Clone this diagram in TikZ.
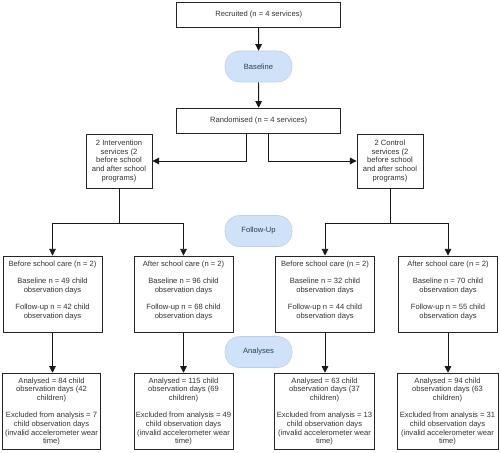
\documentclass[tikz,border=0pt]{standalone}
\usepackage{fontspec}
\setmainfont{Liberation Sans}
\usetikzlibrary{arrows.meta,calc}
\definecolor{txt}{HTML}{333333}
\definecolor{pillfill}{HTML}{CFE2F8}
\definecolor{pilldraw}{HTML}{B8D0EE}
\definecolor{pilltext}{HTML}{2E3D4F}
\begin{document}
\begin{tikzpicture}[x=0.75pt,y=-0.75pt,
  every node/.style={font=\fontsize{5.7}{6.5}\selectfont, text=txt},
  box/.style={draw=black!85, line width=0.65pt, fill=white, align=center, inner sep=0pt},
  pill/.style={fill=pillfill, draw=pilldraw, line width=0.4pt, rounded corners=11pt,
    minimum width=50.25pt, minimum height=23.25pt, text=pilltext, inner sep=0pt},
  lbl/.style={align=center, inner sep=0pt, anchor=north},
  arr/.style={draw=black!90, line width=0.65pt, -{Triangle[length=5pt,width=5pt]}},
  ln/.style={draw=black!90, line width=0.65pt}
]
\useasboundingbox (0,0) rectangle (500,453);
\fill[white] (0,0) rectangle (500,453);

\node[box, minimum width=123pt, minimum height=18.75pt] (rec) at (258.7,14.5) {Recruited (n = 4 services)};
\node[pill] (base) at (258.5,66.5) {Baseline};
\node[box, minimum width=123pt, minimum height=18.75pt] (rand) at (258.7,120.7) {Randomised (n = 4 services)};

\node[box, minimum width=49.5pt, minimum height=40.5pt] (int) at (119,161) {2 Intervention\\services (2\\before school\\and after school\\programs)};
\node[box, minimum width=49.5pt, minimum height=40.5pt] (con) at (390,161) {2 Control\\services (2\\before school\\and after school\\programs)};

\node[pill] (fu) at (258.5,231) {Follow-Up};

% row 2 boxes
\node[box, minimum width=74.25pt, minimum height=57.5pt] (b1) at (52.5,294.3) {};
\node[box, minimum width=74.25pt, minimum height=57.5pt] (b2) at (183.5,294.3) {};
\node[box, minimum width=74.25pt, minimum height=57.5pt] (b3) at (325,294.3) {};
\node[box, minimum width=74.25pt, minimum height=57.5pt] (b4) at (448,294.3) {};
\node[lbl] (t1) at ($(b1.north)+(0,5)$) {Before school care (n = 2)\\[6.5pt]Baseline n = 49 child\\observation days\\[6.5pt]Follow-up n = 42 child\\observation days};
\node[lbl] (t2) at ($(b2.north)+(0,5)$) {After school care (n = 2)\\[6.5pt]Baseline n = 96 child\\observation days\\[6.5pt]Follow-up n = 68 child\\observation days};
\node[lbl] (t3) at ($(b3.north)+(0,5)$) {Before school care (n = 2)\\[6.5pt]Baseline n = 32 child\\observation days\\[6.5pt]Follow-up n = 44 child\\observation days};
\node[lbl] (t4) at ($(b4.north)+(0,5)$) {After school care (n = 2)\\[6.5pt]Baseline n = 70 child\\observation days\\[6.5pt]Follow-up n = 55 child\\observation days};

\node[pill] (an) at (258.5,352) {Analyses};

% row 3 boxes
\node[box, minimum width=73.5pt, minimum height=57.5pt] (c1) at (51.5,411.5) {Analysed = 84 child\\observation days (42\\children)\\[6.5pt]Excluded from analysis = 7\\child observation days\\(invalid accelerometer wear\\time)};
\node[box, minimum width=74.25pt, minimum height=57.5pt] (c2) at (183.5,411.5) {Analysed = 115 child\\observation days (69\\children)\\[6.5pt]Excluded from analysis = 49\\child observation days\\(invalid accelerometer wear\\time)};
\node[box, minimum width=75pt, minimum height=57.5pt] (c3) at (324.5,411.5) {Analysed = 63 child\\observation days (37\\children)\\[6.5pt]Excluded from analysis = 13\\child observation days\\(invalid accelerometer wear\\time)};
\node[box, minimum width=75.75pt, minimum height=57.5pt] (c4) at (447.5,411.5) {Analysed = 94 child\\observation days (63\\children)\\[6.5pt]Excluded from analysis = 31\\child observation days\\(invalid accelerometer wear\\time)};

% connectors
\draw[arr] (rec) -- (base);
\draw[arr] (base) -- (rand);
\coordinate (rl) at ($(rand.south)+(-12,0)$);
\coordinate (rr) at ($(rand.south)+(9.6,0)$);
\draw[arr] (rl) |- (int.east);
\draw[arr] (rr) |- (con.west);

\coordinate (jl) at (119,223);
\coordinate (jr) at (390,223);
\draw[ln] (int.south) -- (jl);
\draw[ln] (con.south) -- (jr);
\draw[arr] (jl) -| (b1.north);
\draw[arr] (jl) -| (b2.north);
\draw[arr] (jr) -| (b3.north);
\draw[arr] (jr) -| (b4.north);

\draw[arr] (b1.south) -- (b1.south |- c1.north);
\draw[arr] (b2.south) -- (c2.north);
\draw[arr] (b3.south) -- (b3.south |- c3.north);
\draw[arr] (b4.south) -- (b4.south |- c4.north);
\end{tikzpicture}
\end{document}
